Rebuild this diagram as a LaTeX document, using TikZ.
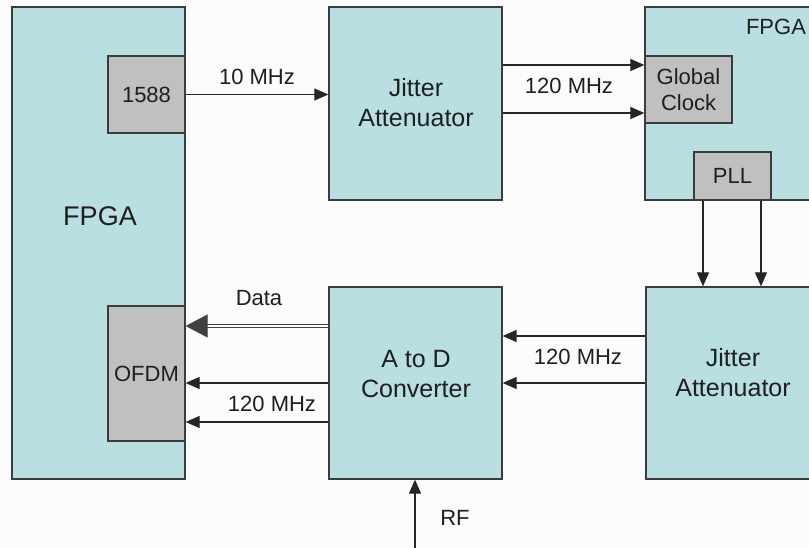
\documentclass[tikz,border=0pt]{standalone}
\usepackage{fontspec}
\setmainfont{Liberation Sans}
\usetikzlibrary{arrows.meta}
\definecolor{boxblue}{RGB}{185,223,227}
\definecolor{boxgray}{RGB}{192,192,192}
\definecolor{edge}{RGB}{60,60,60}
\begin{document}
\begin{tikzpicture}[x=1pt,y=-1pt,
  blk/.style={draw=edge,line width=1.3pt,fill=boxblue,inner sep=0pt,anchor=center},
  sub/.style={draw=edge,line width=1.3pt,fill=boxgray,inner sep=0pt,anchor=center,align=center,text=black!88,font=\fontsize{22}{26}\selectfont},
  txt/.style={inner sep=0pt,align=center,font=\fontsize{22}{26}\selectfont,text=black!88},
  big/.style={txt,font=\fontsize{25}{30}\selectfont},
  arr/.style={draw=black!85,line width=1.1pt,-{Triangle[length=14pt,width=12pt]}}]
\useasboundingbox (0,0) rectangle (809,548);
\clip (0,0) rectangle (809,548);
\fill[white!97!gray] (0,0) rectangle (809,548);
% blocks
\node[blk,minimum width=173pt,minimum height=472pt] (fpga1) at (98.5,243) {};
\node[txt,font=\fontsize{27}{30}\selectfont] (fpga1l) at (100,216) {FPGA};
\node[sub,minimum width=77pt,minimum height=77pt] (p1588) at (146.5,94.5) {1588};
\node[sub,minimum width=77pt,minimum height=135pt] (ofdm) at (146.5,373.5) {OFDM};
\node[blk,minimum width=173pt,minimum height=193pt] (ja1) at (415.5,103.5) {};
\node[big] (ja1l) at (416,103) {Jitter\\Attenuator};
\node[blk,minimum width=173pt,minimum height=193pt] (fpga2) at (731.5,103.5) {};
\node[txt] (fpga2l) at (776,27) {FPGA};
\node[sub,minimum width=87pt,minimum height=67pt] (gclk) at (688.5,89.5) {Global\\Clock};
\node[sub,minimum width=77pt,minimum height=48pt] (pll) at (732.5,176) {PLL};
\node[blk,minimum width=173pt,minimum height=192pt] (adc) at (415.5,383) {};
\node[big] (adcl) at (416,374) {A to D\\Converter};
\node[blk,minimum width=173pt,minimum height=192pt] (ja2) at (732.5,383) {};
\node[big] (ja2l) at (733,373) {Jitter\\Attenuator};
% connectors
\draw[arr] (p1588.east) -- (p1588.east -| ja1.west);
\node[txt] (l10) at (257,77) {10 MHz};
\draw[arr] (ja1.east |- 0,65) -- (fpga2.west |- 0,65);
\draw[arr] (ja1.east |- 0,113) -- (fpga2.west |- 0,113);
\node[txt] (l120a) at (569,86) {120 MHz};
\draw[arr] (703,0 |- pll.south) -- (703,0 |- ja2.north);
\draw[arr] (761,0 |- pll.south) -- (761,0 |- ja2.north);
\draw[arr] (ja2.west |- 0,336) -- (adc.east |- 0,336);
\draw[arr] (ja2.west |- 0,383) -- (adc.east |- 0,383);
\node[txt] (l120b) at (578,357) {120 MHz};
\draw[draw=black!75,line width=0.9pt,double=white,double distance=1.8pt,-{Triangle[length=22pt,width=23pt]}] (adc.west |- 0,326) -- (ofdm.east |- 0,326);
\node[txt] (ldata) at (259,298) {Data};
\draw[arr] (adc.west |- 0,383) -- (ofdm.east |- 0,383);
\draw[arr] (adc.west |- 0,422) -- (ofdm.east |- 0,422);
\node[txt] (l120c) at (272,404) {120 MHz};
\coordinate (rfin) at (415,548);
\draw[arr] (rfin) -- (rfin |- adc.south);
\node[txt] (lrf) at (455,518) {RF};
\end{tikzpicture}
\end{document}
